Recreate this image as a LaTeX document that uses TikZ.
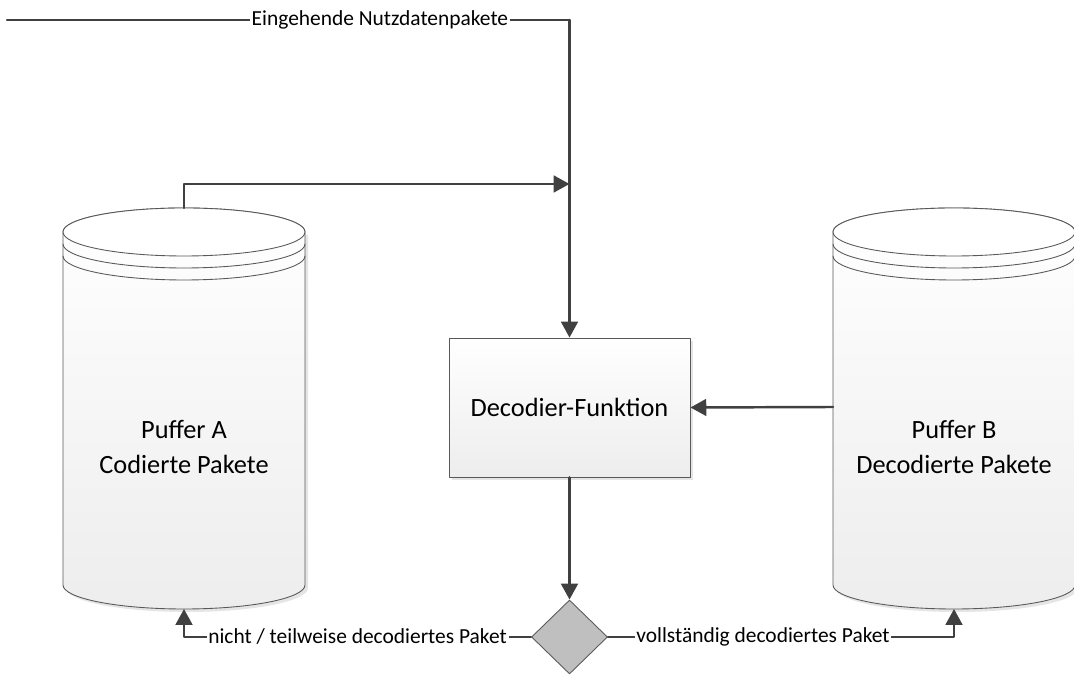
\documentclass[tikz,border=0pt]{standalone}
\usepackage{fontspec}
\setmainfont{Carlito}
\usetikzlibrary{arrows.meta,shapes.geometric}

\tikzset{
  flow/.style={draw=black!75,line width=1.4pt,-{Triangle[length=9pt,width=9.5pt]}},
  plain/.style={draw=black!75,line width=1.4pt},
  lbl/.style={fill=white,inner sep=1pt,font=\fontsize{12.2}{14}\selectfont},
  body/.style={draw=black!65,line width=.5pt,top color=white,bottom color=black!7},
  shade/.style={fill=black!10,draw=none}
}

\begin{document}
\begin{tikzpicture}[x=0.02cm,y=0.02cm, line cap=round, line join=round]
\useasboundingbox (0,0) rectangle (1074,675);

% buffers: cylinder bodies with two rings below the lid
\foreach \cx/\nm/\txt in {184/pufA/{Puffer A\\Codierte Pakete},954/pufB/{Puffer B\\Decodierte Pakete}} {
  \fill[shade] (\cx-118,440) -- (\cx-118,87) arc (180:360:121 and 24) -- (\cx+124,440) -- cycle;
  \draw[body] (\cx-121,443) -- (\cx-121,90) arc (180:360:121 and 24) -- (\cx+121,443) arc (0:180:121 and 24) -- cycle;
  \draw[draw=black!65,line width=.5pt,fill=white] (\cx,443) ellipse (121 and 24);
  \draw[draw=black!65,line width=.5pt] (\cx-121,431) arc (180:360:121 and 24);
  \draw[draw=black!65,line width=.5pt] (\cx-121,419) arc (180:360:121 and 24);
  \node[align=center,font=\fontsize{15}{20}\selectfont] (\nm) at (\cx,228) {\txt};
  \coordinate (\nm top) at (\cx,467);
  \coordinate (\nm bot) at (\cx,66);
  \coordinate (\nm side) at (\cx-121,268);
}

% decoder and decision
\fill[shade] (452,195) rectangle (693,334);
\node[draw=black!65,line width=.5pt,top color=white,bottom color=black!7,minimum width=241*0.02cm,minimum height=139*0.02cm,inner sep=0pt,font=\fontsize{15}{18}\selectfont] (dec) at (569.5,267.5) {Decodier-Funktion};
\node[diamond,draw=black!65,line width=.5pt,fill=black!25,minimum width=76*0.02cm,minimum height=74*0.02cm,inner sep=0pt] (ent) at (569.5,38) {};

\coordinate (ein) at (7,655);
\coordinate (knick) at (569.5,655);
\coordinate (merge) at (569.5,491);

% connectors
\draw[plain] (ein) -- node[lbl,pos=.663] (einL) {Eingehende Nutzdatenpakete} (knick);
\draw[flow] (knick) -- (dec.north);
\draw[flow] (pufAtop) |- (merge);
\draw[flow] (pufBside) -- (dec.east);
\draw[flow] (dec.south) -- (ent.north);
\draw[flow] (ent.west) -| node[lbl,pos=.25] (nichtL) {nicht / teilweise decodiertes Paket} (pufAbot);
\draw[flow] (ent.east) -| node[lbl,pos=.224] (vollL) {vollständig decodiertes Paket} (pufBbot);
\end{tikzpicture}
\end{document}
